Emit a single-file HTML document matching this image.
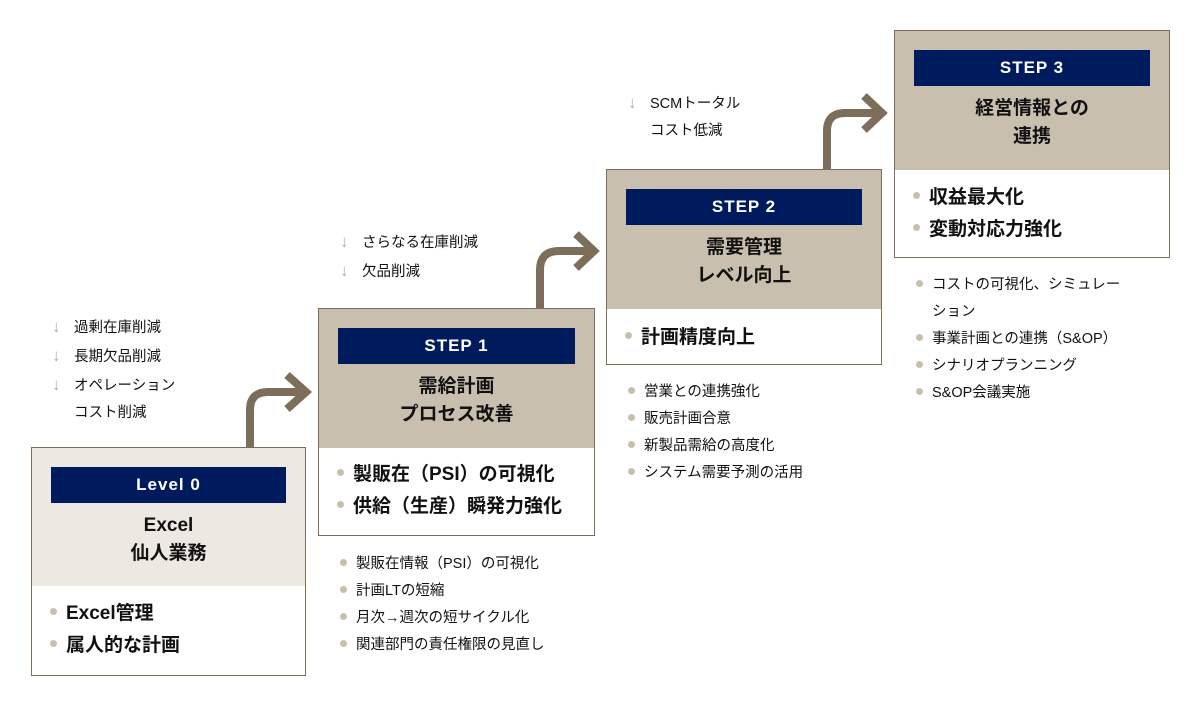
<!DOCTYPE html>
<html><head><meta charset="utf-8"><style>
body{margin:0;width:1200px;height:705px;background:#fff;position:relative;overflow:hidden;font-family:"Liberation Sans","Noto Sans CJK JP",sans-serif;color:#111}
.box{position:absolute;border:1px solid #7d6e5c;background:#fff;box-sizing:border-box}
.hd{position:absolute;left:0;right:0;top:0}
.bar{position:absolute;left:19px;right:19px;top:19px;height:36px;background:#001a5e;color:#fff;font-weight:bold;font-size:17px;text-align:center;line-height:36px;letter-spacing:1px}
.tt{position:absolute;left:0;right:0;top:64px;text-align:center;font-weight:bold;font-size:19px;line-height:28px}
.bl{position:absolute;left:18px;font-weight:bold;font-size:19px;line-height:32px;white-space:nowrap}
.bl div:before,.ls div:before{content:"";display:inline-block;width:7px;height:7px;border-radius:50%;background:#c8bfae;margin-right:9px;vertical-align:middle;position:relative;top:-2px}
.ls{position:absolute;font-size:14.5px;line-height:27px;white-space:nowrap}
.nt{position:absolute;font-size:14.5px;line-height:27px;white-space:nowrap}
.nt span{color:#b8ad9a;display:inline-block;width:22px;font-size:17px}
</style></head><body>
<svg width="1200" height="705" style="position:absolute;left:0;top:0">
<g fill="none" stroke="#7d6e5c" stroke-width="8">
<path d="M250 447 V410 Q250 392 268 392 H306"/><path d="M287 375 L306 392 L287 409"/>
<path d="M540 308 V270 Q540 251 559 251 H594"/><path d="M576 234 L594 251 L576 268"/>
<path d="M827 169 V131 Q827 113 845 113 H882"/><path d="M864 96 L882 113 L864 130"/>
</g></svg>

<div class="nt" style="left:52px;top:313px"><div><span>↓</span>過剰在庫削減</div><div><span>↓</span>長期欠品削減</div><div><span>↓</span>オペレーション</div><div><span></span>コスト削減</div></div>
<div class="box" style="left:31px;top:447px;width:275px;height:229px">
<div class="hd" style="height:138px;background:#ede9e2"></div>
<div class="bar">Level 0</div>
<div class="tt">Excel<br>仙人業務</div>
<div class="bl" style="top:150px"><div>Excel管理</div><div>属人的な計画</div></div></div>

<div class="nt" style="left:340px;top:228px"><div><span>↓</span>さらなる在庫削減</div><div><span>↓</span>欠品削減</div></div>
<div class="box" style="left:318px;top:308px;width:277px;height:228px">
<div class="hd" style="height:139px;background:#c8bfae"></div>
<div class="bar">STEP 1</div>
<div class="tt">需給計画<br>プロセス改善</div>
<div class="bl" style="top:150px"><div>製販在（PSI）の可視化</div><div>供給（生産）瞬発力強化</div></div></div>
<div class="ls" style="left:340px;top:551px"><div>製販在情報（PSI）の可視化</div><div>計画LTの短縮</div><div>月次→週次の短サイクル化</div><div>関連部門の責任権限の見直し</div></div>

<div class="nt" style="left:628px;top:89px"><div><span>↓</span>SCMトータル</div><div><span></span>コスト低減</div></div>
<div class="box" style="left:606px;top:169px;width:276px;height:196px">
<div class="hd" style="height:139px;background:#c8bfae"></div>
<div class="bar">STEP 2</div>
<div class="tt">需要管理<br>レベル向上</div>
<div class="bl" style="top:152px"><div>計画精度向上</div></div></div>
<div class="ls" style="left:628px;top:379px"><div>営業との連携強化</div><div>販売計画合意</div><div>新製品需給の高度化</div><div>システム需要予測の活用</div></div>

<div class="box" style="left:894px;top:30px;width:276px;height:228px">
<div class="hd" style="height:139px;background:#c8bfae"></div>
<div class="bar">STEP 3</div>
<div class="tt">経営情報との<br>連携</div>
<div class="bl" style="top:151px"><div>収益最大化</div><div>変動対応力強化</div></div></div>
<div class="ls" style="left:916px;top:272px"><div>コストの可視化、シミュレー</div><div style="padding-left:16px">ション</div><div>事業計画との連携（S&amp;OP）</div><div>シナリオプランニング</div><div>S&amp;OP会議実施</div></div>
<style>.ls div[style]:before{display:none}</style>
</body></html>
